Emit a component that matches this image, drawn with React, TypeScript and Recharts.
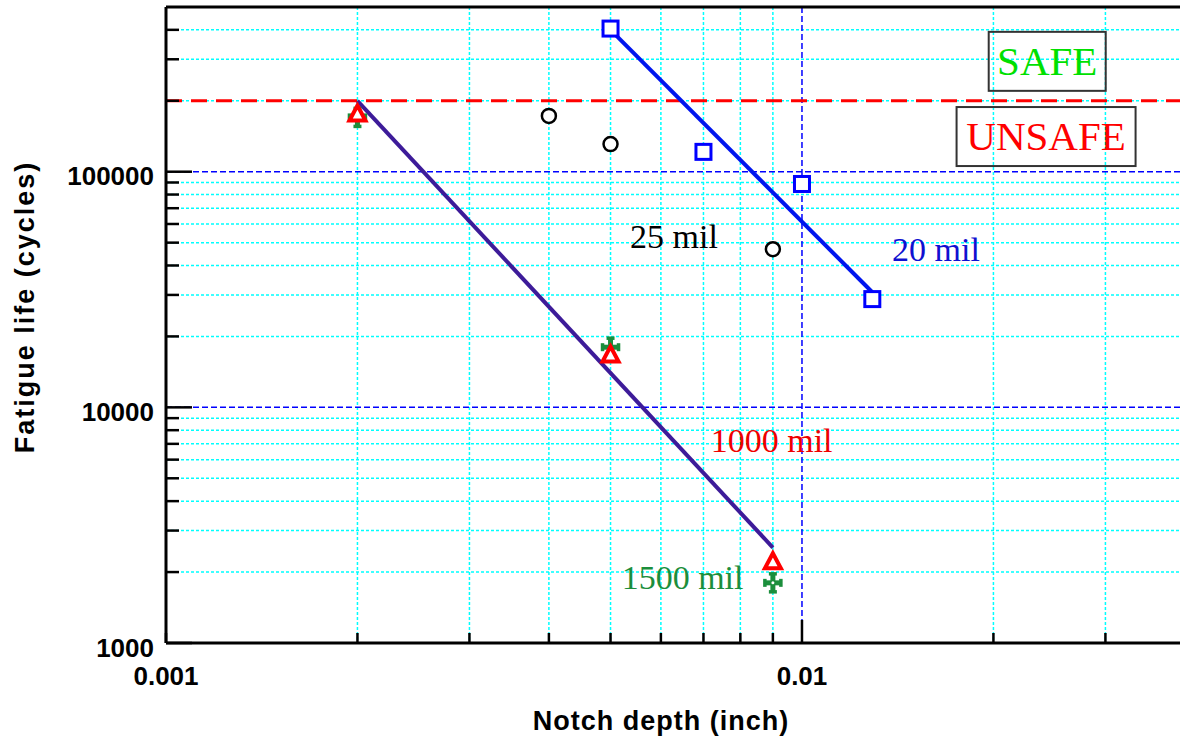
import { ComposedChart, Scatter, XAxis, YAxis, CartesianGrid, ReferenceLine, ReferenceDot } from 'recharts';

// notch depth (inch) -> fatigue life (cycles), one list per notch root radius
const mil1000 = [
  { x: 0.002, y: 175000 },
  { x: 0.005, y: 16600 },
  { x: 0.009, y: 2200 },
];
const mil1500 = [
  { x: 0.002, y: 170000 },
  { x: 0.005, y: 18000 },
  { x: 0.009, y: 1800 },
];
const mil25 = [
  { x: 0.004, y: 172500 },
  { x: 0.005, y: 131000 },
  { x: 0.009, y: 46900 },
];
const mil20 = [
  { x: 0.005, y: 405000 },
  { x: 0.007, y: 121400 },
  { x: 0.01, y: 88700 },
  { x: 0.0129, y: 28800 },
];

// fitted trend lines
const fit1000 = [
  { x: 0.002, y: 200000 },
  { x: 0.009, y: 2540 },
];
const fit20 = [
  { x: 0.005, y: 400000 },
  { x: 0.0129, y: 30800 },
];

const safeLimit = 200000;

const xTicks = [0.001, 0.002, 0.003, 0.004, 0.005, 0.006, 0.007, 0.008, 0.009, 0.01, 0.02, 0.03];
const xLabels = [0.001, 0.01];
const yTicks = [
  1000, 2000, 3000, 4000, 5000, 6000, 7000, 8000, 9000,
  10000, 20000, 30000, 40000, 50000, 60000, 70000, 80000, 90000,
  100000, 200000, 300000, 400000,
];
const yLabels = [1000, 10000, 100000];

const SANS = "'Liberation Sans', Arial, sans-serif";
const SERIF = "'Liberation Serif', 'Times New Roman', serif";

const notes = [
  { x: 0.00629, y: 53000, text: '25 mil', color: '#000000', size: 34 },
  { x: 0.01624, y: 46700, text: '20 mil', color: '#1010d0', size: 34 },
  { x: 0.00896, y: 7200, text: '1000 mil', color: '#ee0000', size: 34 },
  { x: 0.00649, y: 1886, text: '1500 mil', color: '#1b8e3c', size: 34 },
  { x: 0.0243, y: 294000, text: 'SAFE', color: '#00e000', size: 41, box: [117, 59] },
  { x: 0.0242, y: 141000, text: 'UNSAFE', color: '#ff0000', size: 41, box: [179, 59] },
];

const YTick = ({ x, y, payload }: any) => {
  const major = yLabels.includes(payload.value);
  return (
    <g>
      <line x1={x} x2={x + (major ? 26 : 13)} y1={y} y2={y} stroke="#000" strokeWidth={2.5} />
      {major && (
        <text x={x - 12} y={y} dy={13.5} textAnchor="end" fontFamily={SANS} fontWeight="bold" fontSize={26} fill="#000">
          {payload.value}
        </text>
      )}
    </g>
  );
};

const XTick = ({ x, y, payload }: any) => {
  const major = xLabels.includes(payload.value);
  return (
    <g>
      <line x1={x} x2={x} y1={y} y2={y - (payload.value === 0.01 ? 23 : 10)} stroke="#000" strokeWidth={2.5} />
      {major && (
        <text x={x} y={y} dy={42} textAnchor="middle" fontFamily={SANS} fontWeight="bold" fontSize={26} fill="#000">
          {String(payload.value)}
        </text>
      )}
    </g>
  );
};

const Square = ({ cx, cy }: any) => (
  <rect x={cx - 7.5} y={cy - 7.5} width={15} height={15} fill="#fff" stroke="#0000ff" strokeWidth={3} />
);
const Circle = ({ cx, cy }: any) => <circle cx={cx} cy={cy} r={7} fill="#fff" stroke="#000" strokeWidth={2.5} />;
const Triangle = ({ cx, cy }: any) => (
  <polygon
    points={`${cx},${cy - 9} ${cx - 8},${cy + 6} ${cx + 8},${cy + 6}`}
    fill="#fff"
    stroke="#ff0000"
    strokeWidth={4}
  />
);
const Cross = ({ cx, cy }: any) => (
  <g stroke="#1b8e3c" strokeWidth={5}>
    <line x1={cx - 8} x2={cx + 8} y1={cy} y2={cy} />
    <line x1={cx} x2={cx} y1={cy - 9} y2={cy + 9} />
    <line x1={cx - 8} x2={cx - 8} y1={cy - 4} y2={cy + 4} strokeWidth={3.5} />
    <line x1={cx + 8} x2={cx + 8} y1={cy - 4} y2={cy + 4} strokeWidth={3.5} />
    <line x1={cx - 4} x2={cx + 4} y1={cy - 9} y2={cy - 9} strokeWidth={3.5} />
    <line x1={cx - 4} x2={cx + 4} y1={cy + 9} y2={cy + 9} strokeWidth={3.5} />
    <circle cx={cx} cy={cy} r={1.5} fill="#fff" stroke="none" />
  </g>
);
const Nothing = () => <g />;

const Note = ({ cx, cy, n }: any) => (
  <g>
    {n.box && (
      <rect
        x={cx - n.box[0] / 2}
        y={cy - n.box[1] / 2}
        width={n.box[0]}
        height={n.box[1]}
        fill="none"
        stroke="#333"
        strokeWidth={2}
      />
    )}
    <text x={cx} y={cy} dy={n.size * 0.33} textAnchor="middle" fill={n.color} fontSize={n.size} fontFamily={SERIF}>
      {n.text}
    </text>
  </g>
);

export default function App() {
  return (
    <div style={{ position: 'absolute', left: 0, top: 0, background: '#fff' }}>
      <ComposedChart width={1180} height={743} margin={{ top: 7, right: 0, bottom: 0, left: 0 }}>
        <CartesianGrid
          stroke="#00ffff"
          strokeWidth={1.5}
          strokeDasharray="3 2"
          horizontalValues={yTicks.filter((v) => !yLabels.includes(v))}
          verticalValues={xTicks.filter((v) => !xLabels.includes(v))}
        />
        <ReferenceLine y={10000} stroke="#0000ff" strokeWidth={1.5} strokeDasharray="6 3" />
        <ReferenceLine y={100000} stroke="#0000ff" strokeWidth={1.5} strokeDasharray="6 3" />
        <ReferenceLine x={0.01} stroke="#0000ff" strokeWidth={1.5} strokeDasharray="6 3" />
        <ReferenceLine y={safeLimit} stroke="#ff0000" strokeWidth={3} strokeDasharray="16 9" />
        <ReferenceLine y={500000} stroke="#000" strokeWidth={3} />
        <XAxis
          type="number"
          dataKey="x"
          scale="log"
          domain={[0.001, 0.0393]}
          allowDataOverflow
          ticks={xTicks}
          interval={0}
          tick={<XTick />}
          tickLine={false}
          tickSize={0}
          tickMargin={0}
          height={100}
          axisLine={{ stroke: '#000', strokeWidth: 3 }}
          label={{
            content: ({ viewBox }: any) => (
              <text
                x={viewBox.x + 495}
                y={viewBox.y + 87}
                textAnchor="middle"
                fontFamily={SANS}
                fontWeight="bold"
                fontSize={27}
                letterSpacing={1}
                fill="#000"
              >
                Notch depth (inch)
              </text>
            ),
          }}
        />
        <YAxis
          type="number"
          dataKey="y"
          scale="log"
          domain={[1000, 500000]}
          allowDataOverflow
          ticks={yTicks}
          interval={0}
          tick={<YTick />}
          tickLine={false}
          tickSize={0}
          tickMargin={0}
          width={166}
          axisLine={{ stroke: '#000', strokeWidth: 3 }}
          label={{
            content: ({ viewBox }: any) => {
              const cx = viewBox.x + 34;
              const cy = viewBox.y + 300;
              return (
                <text
                  x={cx}
                  y={cy}
                  transform={`rotate(-90 ${cx} ${cy})`}
                  textAnchor="middle"
                  fontFamily={SANS}
                  fontWeight="bold"
                  fontSize={27}
                  letterSpacing={2}
                  fill="#000"
                >
                  Fatigue life (cycles)
                </text>
              );
            },
          }}
        />
        <Scatter data={fit1000} line={{ stroke: '#3d1b99', strokeWidth: 4 }} shape={<Nothing />} isAnimationActive={false} />
        <Scatter data={fit20} line={{ stroke: '#0015ee', strokeWidth: 4 }} shape={<Nothing />} isAnimationActive={false} />
        <Scatter data={mil25} shape={<Circle />} isAnimationActive={false} />
        <Scatter data={mil20} shape={<Square />} isAnimationActive={false} />
        <Scatter data={mil1500} shape={<Cross />} isAnimationActive={false} />
        <Scatter data={mil1000} shape={<Triangle />} isAnimationActive={false} />
        {notes.map((n) => (
          <ReferenceDot key={n.text} x={n.x} y={n.y} r={0} shape={(p: any) => <Note cx={p.cx} cy={p.cy} n={n} />} />
        ))}
      </ComposedChart>
    </div>
  );
}
